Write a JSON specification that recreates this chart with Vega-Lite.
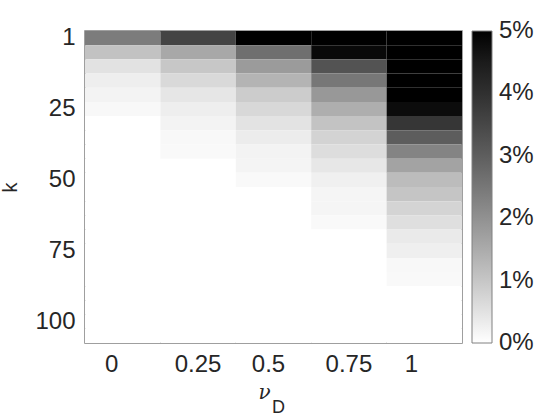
{
  "$schema": "https://vega.github.io/schema/vega-lite/v6.json",
  "width": 377,
  "height": 312,
  "autosize": "none",
  "padding": {"left": 85, "top": 31, "right": 98, "bottom": 77},
  "background": "white",
  "config": {
    "font": "Liberation Sans",
    "view": {"stroke": "#808080", "strokeWidth": 1.5},
    "axis": {"labelColor": "#262626", "labelFontSize": 24, "ticks": false, "domain": false, "grid": false, "labelFont": "Liberation Sans"}
  },
  "title": {"text": "D", "orient": "bottom", "anchor": "middle", "fontSize": 18, "fontWeight": "normal", "color": "#262626", "font": "Liberation Sans", "offset": -3, "dx": 5},
  "data": {"values": [
    {"nu": 0, "k": 1, "pct": 2.39}, {"nu": 0, "k": 5, "pct": 1.08}, {"nu": 0, "k": 10, "pct": 0.51}, {"nu": 0, "k": 15, "pct": 0.29}, {"nu": 0, "k": 20, "pct": 0.2}, {"nu": 0, "k": 25, "pct": 0.12}, {"nu": 0, "k": 30, "pct": 0}, {"nu": 0, "k": 35, "pct": 0}, {"nu": 0, "k": 40, "pct": 0}, {"nu": 0, "k": 45, "pct": 0}, {"nu": 0, "k": 50, "pct": 0}, {"nu": 0, "k": 55, "pct": 0}, {"nu": 0, "k": 60, "pct": 0}, {"nu": 0, "k": 65, "pct": 0}, {"nu": 0, "k": 70, "pct": 0}, {"nu": 0, "k": 75, "pct": 0}, {"nu": 0, "k": 80, "pct": 0}, {"nu": 0, "k": 85, "pct": 0}, {"nu": 0, "k": 90, "pct": 0}, {"nu": 0, "k": 95, "pct": 0}, {"nu": 0, "k": 100, "pct": 0}, {"nu": 0, "k": 105, "pct": 0},
    {"nu": 0.25, "k": 1, "pct": 3.55}, {"nu": 0.25, "k": 5, "pct": 1.55}, {"nu": 0.25, "k": 10, "pct": 0.98}, {"nu": 0.25, "k": 15, "pct": 0.67}, {"nu": 0.25, "k": 20, "pct": 0.43}, {"nu": 0.25, "k": 25, "pct": 0.29}, {"nu": 0.25, "k": 30, "pct": 0.2}, {"nu": 0.25, "k": 35, "pct": 0.12}, {"nu": 0.25, "k": 40, "pct": 0.11}, {"nu": 0.25, "k": 45, "pct": 0}, {"nu": 0.25, "k": 50, "pct": 0}, {"nu": 0.25, "k": 55, "pct": 0}, {"nu": 0.25, "k": 60, "pct": 0}, {"nu": 0.25, "k": 65, "pct": 0}, {"nu": 0.25, "k": 70, "pct": 0}, {"nu": 0.25, "k": 75, "pct": 0}, {"nu": 0.25, "k": 80, "pct": 0}, {"nu": 0.25, "k": 85, "pct": 0}, {"nu": 0.25, "k": 90, "pct": 0}, {"nu": 0.25, "k": 95, "pct": 0}, {"nu": 0.25, "k": 100, "pct": 0}, {"nu": 0.25, "k": 105, "pct": 0},
    {"nu": 0.5, "k": 1, "pct": 5.4}, {"nu": 0.5, "k": 5, "pct": 2.65}, {"nu": 0.5, "k": 10, "pct": 1.8}, {"nu": 0.5, "k": 15, "pct": 1.33}, {"nu": 0.5, "k": 20, "pct": 0.9}, {"nu": 0.5, "k": 25, "pct": 0.69}, {"nu": 0.5, "k": 30, "pct": 0.49}, {"nu": 0.5, "k": 35, "pct": 0.33}, {"nu": 0.5, "k": 40, "pct": 0.2}, {"nu": 0.5, "k": 45, "pct": 0.19}, {"nu": 0.5, "k": 50, "pct": 0.1}, {"nu": 0.5, "k": 55, "pct": 0}, {"nu": 0.5, "k": 60, "pct": 0}, {"nu": 0.5, "k": 65, "pct": 0}, {"nu": 0.5, "k": 70, "pct": 0}, {"nu": 0.5, "k": 75, "pct": 0}, {"nu": 0.5, "k": 80, "pct": 0}, {"nu": 0.5, "k": 85, "pct": 0}, {"nu": 0.5, "k": 90, "pct": 0}, {"nu": 0.5, "k": 95, "pct": 0}, {"nu": 0.5, "k": 100, "pct": 0}, {"nu": 0.5, "k": 105, "pct": 0},
    {"nu": 0.75, "k": 1, "pct": 6.6}, {"nu": 0.75, "k": 5, "pct": 4.88}, {"nu": 0.75, "k": 10, "pct": 3.24}, {"nu": 0.75, "k": 15, "pct": 2.5}, {"nu": 0.75, "k": 20, "pct": 1.86}, {"nu": 0.75, "k": 25, "pct": 1.45}, {"nu": 0.75, "k": 30, "pct": 1.06}, {"nu": 0.75, "k": 35, "pct": 0.78}, {"nu": 0.75, "k": 40, "pct": 0.59}, {"nu": 0.75, "k": 45, "pct": 0.41}, {"nu": 0.75, "k": 50, "pct": 0.26}, {"nu": 0.75, "k": 55, "pct": 0.18}, {"nu": 0.75, "k": 60, "pct": 0.17}, {"nu": 0.75, "k": 65, "pct": 0.1}, {"nu": 0.75, "k": 70, "pct": 0}, {"nu": 0.75, "k": 75, "pct": 0}, {"nu": 0.75, "k": 80, "pct": 0}, {"nu": 0.75, "k": 85, "pct": 0}, {"nu": 0.75, "k": 90, "pct": 0}, {"nu": 0.75, "k": 95, "pct": 0}, {"nu": 0.75, "k": 100, "pct": 0}, {"nu": 0.75, "k": 105, "pct": 0},
    {"nu": 1, "k": 1, "pct": 9.5}, {"nu": 1, "k": 5, "pct": 7.8}, {"nu": 1, "k": 10, "pct": 6.6}, {"nu": 1, "k": 15, "pct": 5.8}, {"nu": 1, "k": 20, "pct": 5.2}, {"nu": 1, "k": 25, "pct": 4.84}, {"nu": 1, "k": 30, "pct": 3.86}, {"nu": 1, "k": 35, "pct": 3.02}, {"nu": 1, "k": 40, "pct": 2.24}, {"nu": 1, "k": 45, "pct": 1.65}, {"nu": 1, "k": 50, "pct": 1.18}, {"nu": 1, "k": 55, "pct": 1.02}, {"nu": 1, "k": 60, "pct": 0.76}, {"nu": 1, "k": 65, "pct": 0.55}, {"nu": 1, "k": 70, "pct": 0.37}, {"nu": 1, "k": 75, "pct": 0.27}, {"nu": 1, "k": 80, "pct": 0.12}, {"nu": 1, "k": 85, "pct": 0.1}, {"nu": 1, "k": 90, "pct": 0}, {"nu": 1, "k": 95, "pct": 0}, {"nu": 1, "k": 100, "pct": 0}, {"nu": 1, "k": 105, "pct": 0}
  ]},
  "mark": {"type": "rect", "strokeWidth": 0},
  "encoding": {
    "x": {
      "field": "nu", "type": "ordinal",
      "scale": {"domain": [0, 0.25, 0.5, 0.75, 1], "paddingInner": 0, "paddingOuter": 0},
      "axis": {"labelAngle": 0, "labelPadding": 9, "labelOffset": {"expr": "datum.value == 0 ? -11 : datum.value == 0.5 ? -5 : datum.value == 1 ? -13 : 0"}, "title": "ν", "titleX": 179, "titleFont": "DejaVu Serif", "titleFontStyle": "italic", "titleFontWeight": "normal", "titleFontSize": 20, "titleColor": "#262626", "titlePadding": 6}
    },
    "y": {
      "field": "k", "type": "ordinal",
      "scale": {"domain": [1, 5, 10, 15, 20, 25, 30, 35, 40, 45, 50, 55, 60, 65, 70, 75, 80, 85, 90, 95, 100, 105], "paddingInner": 0, "paddingOuter": 0},
      "axis": {"values": [1, 25, 50, 75, 100], "labelPadding": 10, "title": "k", "titleX": -69, "titleBaseline": "alphabetic", "titleFontSize": 20, "titleFontWeight": "normal", "titleColor": "#262626"}
    },
    "color": {
      "field": "pct", "type": "quantitative",
      "scale": {"domain": [0, 5], "range": ["#ffffff", "#000000"], "clamp": true},
      "legend": {
        "title": null, "orient": "right", "offset": 10, "padding": 0,
        "direction": "vertical", "gradientLength": 312, "gradientThickness": 20,
        "gradientStrokeColor": "#808080", "gradientStrokeWidth": 1,
        "values": [0, 1, 2, 3, 4, 5],
        "labelExpr": "datum.value + '%'",
        "labelFontSize": 24, "labelColor": "#262626", "labelOffset": 7,
        "encode": {"labels": {"update": {"baseline": {"value": "middle"}}}}
      }
    }
  }
}
